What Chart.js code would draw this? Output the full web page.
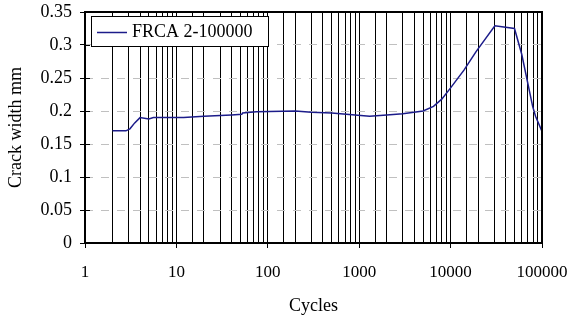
<!DOCTYPE html>
<html lang="en">
<head>
  <meta charset="UTF-8">
  <title>Crack width vs cycles</title>
  <script src="https://cdn.jsdelivr.net/npm/chart.js"></script>
  <style>
    html, body { margin: 0; padding: 0; background: #fff; }
    #wrap { width: 572px; height: 324px; }
  </style>
</head>
<body>
  <div id="wrap"><canvas id="crackChart"></canvas></div>
  <script>
    // values
    var seriesName = 'FRCA 2-100000';
    var cycles = [2, 2.8, 3.1, 3.5, 4, 5, 5.6, 12, 20, 40, 52, 53, 75, 200, 300, 500, 900, 1300, 2000, 3000, 5000, 6500, 8000, 10000, 14000, 19000, 30500, 50000, 60000, 79000, 85000, 100000];
    var crackWidth = [0.170, 0.170, 0.173, 0.182, 0.190, 0.188, 0.190, 0.190, 0.192, 0.194, 0.195, 0.197, 0.199, 0.200, 0.198, 0.197, 0.194, 0.192, 0.194, 0.196, 0.200, 0.207, 0.218, 0.235, 0.262, 0.290, 0.329, 0.325, 0.286, 0.207, 0.192, 0.169];
    var xLabels = [1, 10, 100, 1000, 10000, 100000];
    var yTicks = [0, 0.05, 0.1, 0.15, 0.2, 0.25, 0.3, 0.35];

    var serif = 'Liberation Serif';

    function isDecade(v) {
      return xLabels.indexOf(Math.round(v)) !== -1;
    }

    // plot frame, inner y ticks and legend box
    var framePlugin = {
      id: 'frame',
      afterDraw: function(chart) {
        var ctx = chart.ctx;
        var a = chart.chartArea;
        var y = chart.scales.y;
        ctx.save();
        ctx.strokeStyle = '#000';
        ctx.lineWidth = 1;
        yTicks.forEach(function(t) {
          var py = Math.round(y.getPixelForValue(t)) + 0.5;
          ctx.beginPath();
          ctx.moveTo(a.left, py);
          ctx.lineTo(a.left + 5, py);
          ctx.stroke();
        });
        ctx.lineWidth = 2;
        ctx.strokeRect(a.left, a.top, a.right - a.left, a.bottom - a.top);

        // legend
        ctx.fillStyle = '#fff';
        ctx.fillRect(91.5, 16.5, 177, 30);
        ctx.lineWidth = 1;
        ctx.strokeStyle = '#000';
        ctx.strokeRect(91.5, 16.5, 177, 30);
        ctx.strokeStyle = '#1c1c8a';
        ctx.lineWidth = 1.5;
        ctx.beginPath();
        ctx.moveTo(97, 32.5);
        ctx.lineTo(127, 32.5);
        ctx.stroke();
        ctx.fillStyle = '#000';
        ctx.font = '18px "' + serif + '"';
        ctx.textBaseline = 'middle';
        ctx.fillText(seriesName, 132, 32);
        ctx.restore();
      }
    };

    var ctx = document.getElementById('crackChart').getContext('2d');
    var crackChart = new Chart(ctx, {
      type: 'line',
      data: {
        datasets: [{
          label: seriesName,
          data: cycles.map(function(c, i) { return { x: c, y: crackWidth[i] }; }),
          borderColor: '#1c1c8a',
          borderWidth: 1.5,
          pointRadius: 0,
          tension: 0,
          fill: false
        }]
      },
      options: {
        responsive: true,
        maintainAspectRatio: false,
        animation: false,
        layout: { padding: { top: 12, right: 30, left: 0, bottom: 0 } },
        plugins: {
          legend: { display: false },
          tooltip: { enabled: false }
        },
        scales: {
          x: {
            type: 'logarithmic',
            min: 1,
            max: 100000,
            afterFit: function(s) { s.height = 81; s.paddingLeft = 0; s.paddingRight = 0; },
            grid: {
              color: '#000',
              lineWidth: 1,
              tickLength: 5,
              tickColor: function(c) { return c.tick && isDecade(c.tick.value) ? '#000' : 'rgba(0,0,0,0)'; }
            },
            border: { display: false },
            ticks: {
              autoSkip: false,
              maxRotation: 0,
              padding: 14,
              color: '#000',
              font: { family: serif, size: 17 },
              callback: function(v) { return isDecade(v) ? String(Math.round(v)) : ''; }
            },
            title: {
              display: true,
              text: 'Cycles',
              color: '#000',
              font: { family: serif, size: 18 },
              padding: { top: 0, bottom: 7 }
            }
          },
          y: {
            min: 0,
            max: 0.35,
            afterFit: function(s) { s.width = 85; s.paddingTop = 0; s.paddingBottom = 0; },
            grid: {
              color: '#c0c0c0',
              lineWidth: 1,
              tickLength: 5,
              tickColor: '#000'
            },
            border: { display: false, dash: [8, 8] },
            ticks: {
              stepSize: 0.05,
              padding: 8,
              color: '#000',
              font: { family: serif, size: 18 },
              callback: function(v) { return String(Number(v.toFixed(2))); }
            },
            title: {
              display: true,
              text: 'Crack width mm',
              color: '#000',
              font: { family: serif, size: 18 },
              padding: { top: 5, bottom: 0 }
            }
          }
        }
      },
      plugins: [framePlugin]
    });
  </script>
</body>
</html>
